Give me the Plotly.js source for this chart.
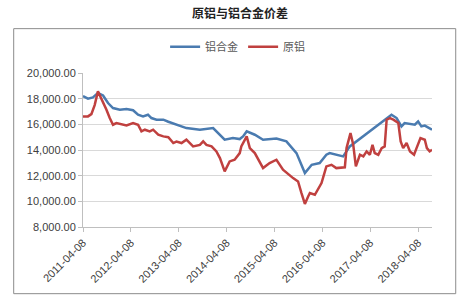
<!DOCTYPE html>
<html>
<head>
<meta charset="utf-8">
<script src="https://cdn.plot.ly/plotly-3.0.1.min.js"></script>
<style>html,body{margin:0;padding:0;background:#fff;}#chart{width:468px;height:308px;}</style>
</head>
<body>
<div id="chart"></div>
<script>
// 铝合金 (aluminium alloy)
const alloyDates = ['2011-04-08','2011-05-16','2011-06-23','2011-07-31','2011-09-08','2011-10-16','2011-11-23','2012-01-14','2012-03-05','2012-04-24','2012-06-01','2012-07-09','2012-08-16','2012-09-11','2012-10-20','2012-12-11','2013-01-18','2013-02-25','2013-06-05','2013-09-16','2013-12-26','2014-03-24','2014-05-26','2014-07-17','2014-08-11','2014-09-08','2014-11-09','2015-01-11','2015-04-23','2015-07-08','2015-09-23','2015-11-26','2016-01-17','2016-03-18','2016-05-08','2016-06-02','2016-07-23','2016-09-13','2016-11-03','2017-09-17','2017-10-26','2017-12-02','2017-12-26','2018-03-14','2018-04-08','2018-05-03','2018-05-29','2018-07-05','2018-07-23'];
const alloyValues = [18200,18000,18100,18450,18250,17660,17270,17140,17200,17100,16750,16620,16750,16490,16360,16360,16200,16050,15710,15580,15710,14800,14930,14850,15060,15450,15190,14800,14900,14670,13760,12200,12850,12980,13630,13760,13630,13500,14280,16750,16490,15840,16100,15970,16230,15840,15900,15650,15580];

// 原铝 (primary aluminium)
const primaryDates = ['2011-04-08','2011-05-16','2011-06-11','2011-07-06','2011-07-31','2011-08-19','2011-09-08','2011-10-04','2011-10-29','2011-11-23','2011-12-19','2012-01-26','2012-03-05','2012-04-24','2012-06-01','2012-06-27','2012-07-23','2012-08-29','2012-09-24','2012-11-02','2012-12-11','2013-01-18','2013-02-25','2013-03-21','2013-04-29','2013-06-05','2013-06-30','2013-07-26','2013-09-16','2013-10-11','2013-11-05','2013-12-14','2014-01-20','2014-02-16','2014-03-24','2014-04-18','2014-05-01','2014-06-08','2014-07-17','2014-07-29','2014-09-08','2014-10-02','2014-11-09','2015-01-11','2015-03-02','2015-04-23','2015-06-12','2015-08-28','2015-10-05','2015-10-31','2015-11-26','2015-12-21','2016-01-03','2016-02-10','2016-04-01','2016-05-08','2016-06-16','2016-07-23','2016-09-26','2016-10-09','2016-11-08','2016-11-29','2016-12-19','2017-01-19','2017-02-14','2017-03-11','2017-04-05','2017-04-25','2017-05-12','2017-06-08','2017-07-04','2017-07-27','2017-08-11','2017-09-05','2017-10-01','2017-11-08','2017-11-26','2017-12-15','2018-01-10','2018-02-05','2018-03-08','2018-03-27','2018-04-26','2018-05-29','2018-06-14','2018-07-05','2018-07-23'];
const primaryValues = [16620,16620,16800,17500,18570,18180,17790,17140,16490,15970,16100,16020,15920,16100,15970,15450,15580,15450,15580,15190,15060,15000,14540,14650,14540,14800,14540,14280,14400,14670,14400,14280,13890,13370,12330,12850,13110,13240,13760,14280,15060,14150,13760,12590,12980,13240,12460,11810,11550,10640,9800,10380,10640,10510,11420,12720,12850,12590,12650,14150,15320,14410,12720,13630,13500,13890,13630,14410,13760,13630,14150,14280,16360,16490,16360,16100,14670,14150,14540,13890,13630,14150,14930,14800,14150,13890,14020];

const tickDates = ['2011-04-08','2012-04-08','2013-04-08','2014-04-08','2015-04-08','2016-04-08','2017-04-08','2018-04-08'];
const tickLabels = ['2011-04-08','2012-04-08','2013-04-08','2014-04-08','2015-04-08','2016-04-08','2017-04-08','2018-04-08'];

const seriesNames = ['铝合金','原铝'];
const chartTitle = '原铝与铝合金价差';

const traces = [
  {x: alloyDates, y: alloyValues, name: seriesNames[0], type: 'scatter', mode: 'lines',
   line: {color: '#4a7bb0', width: 2.5}},
  {x: primaryDates, y: primaryValues, name: seriesNames[1], type: 'scatter', mode: 'lines',
   line: {color: '#c0403f', width: 2.5}}
];

const layout = {
  width: 468, height: 308,
  margin: {l: 83, r: 36, t: 73, b: 81},
  paper_bgcolor: '#ffffff', plot_bgcolor: '#ffffff',
  font: {family: '"Liberation Sans", "Noto Sans CJK SC", sans-serif', color: '#404040', size: 11},
  title: {text: '<b>' + chartTitle + '</b>', x: 0.513, xanchor: 'center', y: 0.955, yanchor: 'middle',
          font: {family: '"Noto Sans CJK SC", sans-serif', size: 12, color: '#222'}},
  xaxis: {type: 'date', range: ['2011-04-08', '2018-07-23'],
          tickvals: tickDates, ticktext: tickLabels, tickangle: -45,
          showgrid: false, showline: true, linecolor: '#bfbfbf', linewidth: 1,
          ticks: 'outside', ticklen: 4, tickcolor: '#bfbfbf',
          tickfont: {size: 11, color: '#404040'}, zeroline: false},
  yaxis: {range: [8000, 20000], dtick: 2000, tick0: 8000, tickformat: ',.2f',
          showgrid: true, gridcolor: '#d9d9d9', gridwidth: 1,
          showline: true, linecolor: '#bfbfbf', linewidth: 1,
          ticks: 'outside', ticklen: 4, tickcolor: '#bfbfbf',
          tickfont: {size: 11, color: '#404040'}, zeroline: false},
  showlegend: true,
  legend: {orientation: 'h', x: 0.443, xanchor: 'center', y: 1.17, yanchor: 'middle',
           font: {family: '"Noto Sans CJK SC", sans-serif', size: 11, color: '#595959'},
           bgcolor: 'rgba(0,0,0,0)', itemwidth: 30},
  shapes: [
    {type: 'rect', xref: 'paper', yref: 'paper', x0: -0.1986, x1: 1.068, y0: -0.433, y1: 1.288,
     line: {color: '#8c8c8c', width: 1}, fillcolor: 'rgba(0,0,0,0)', layer: 'below'}
  ]
};

Plotly.newPlot('chart', traces, layout, {displayModeBar: false, staticPlot: true});
</script>
</body>
</html>
